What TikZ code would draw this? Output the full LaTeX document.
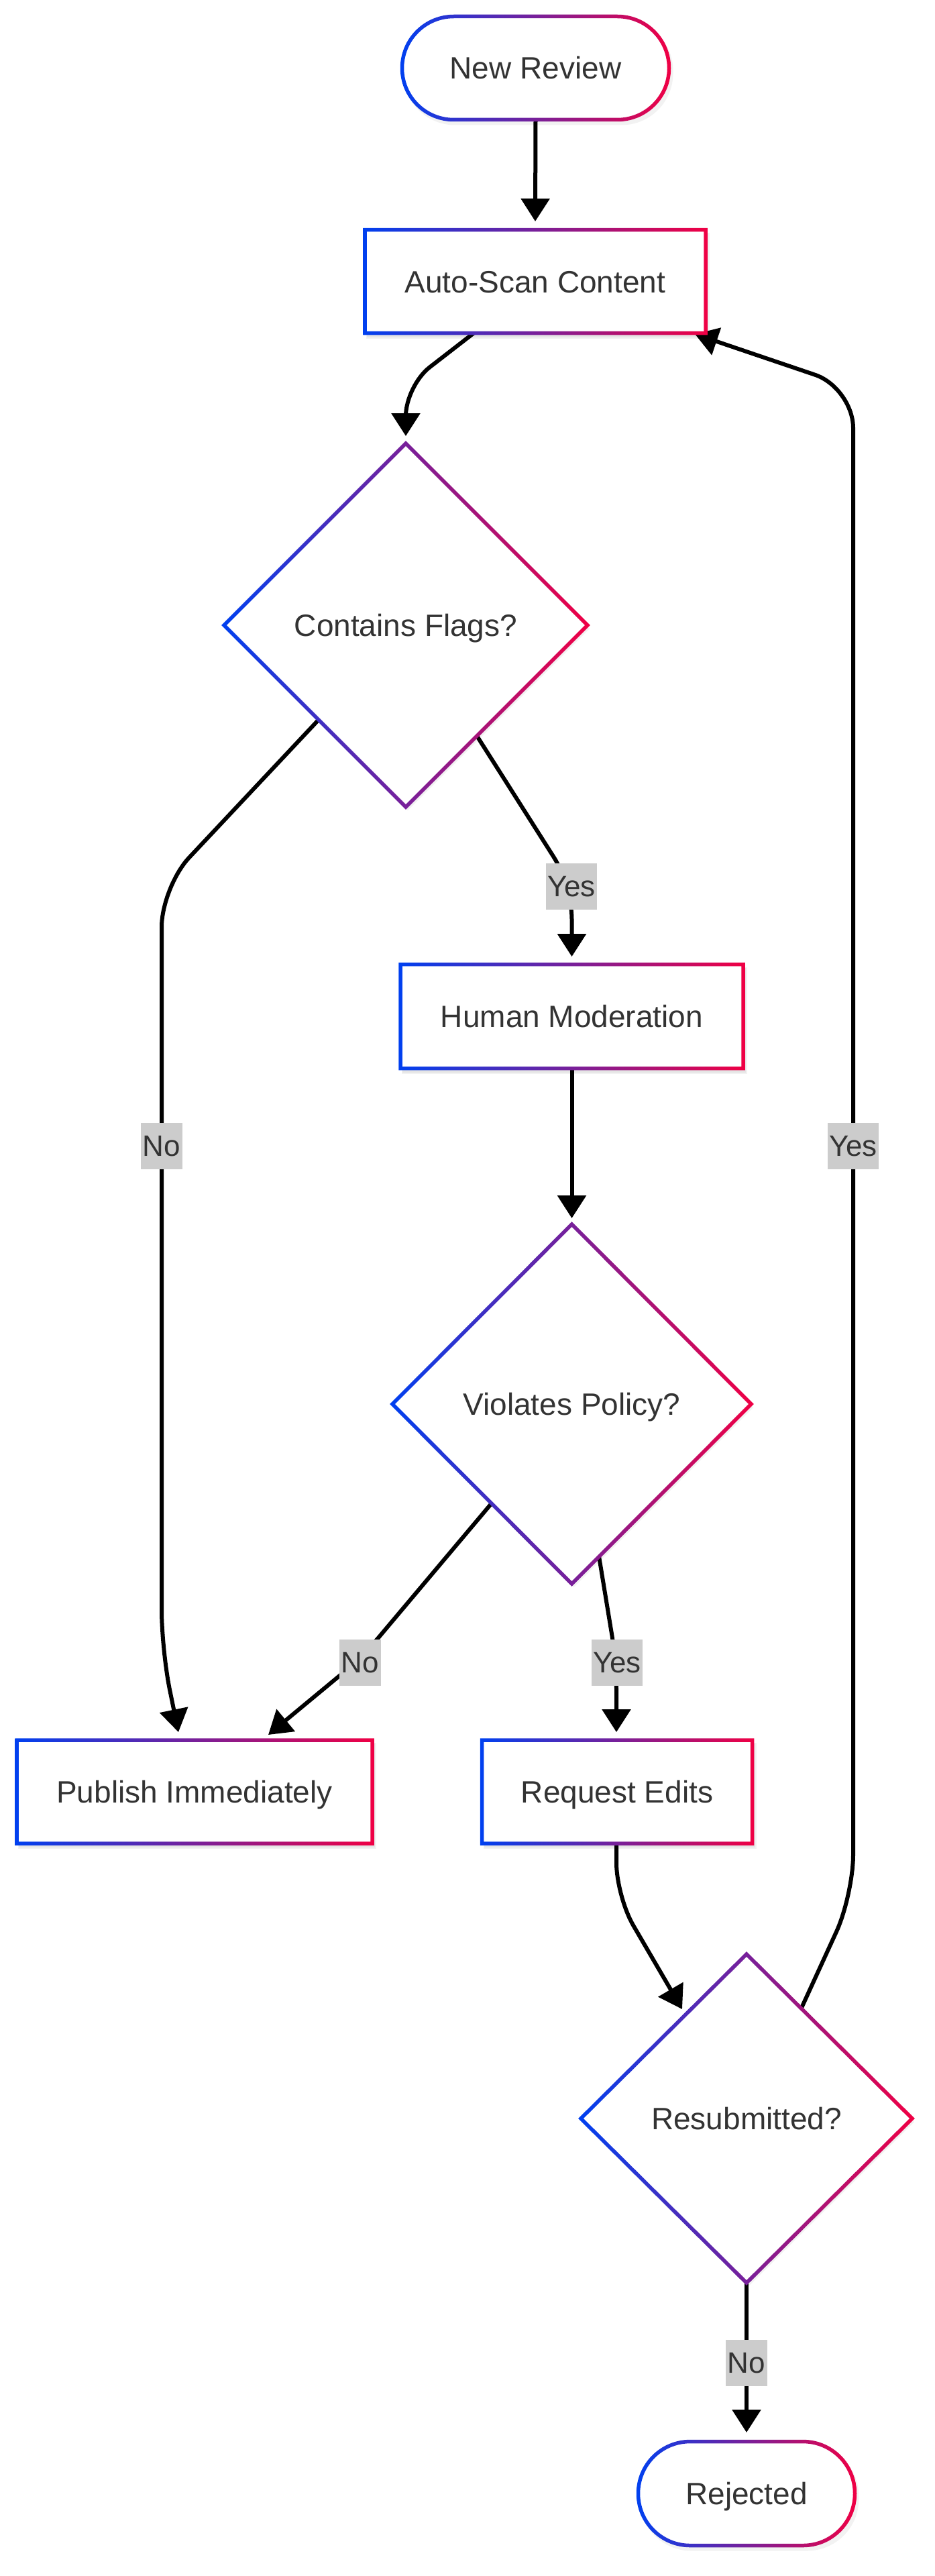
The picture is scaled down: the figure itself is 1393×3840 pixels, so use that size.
\documentclass[tikz,border=0pt]{standalone}
\usepackage{fontspec}
\setmainfont{Liberation Sans}
\usetikzlibrary{arrows.meta,calc}
\definecolor{gA}{HTML}{0040F0}
\definecolor{gB}{HTML}{F00044}
\definecolor{txt}{HTML}{333333}
\definecolor{lbl}{HTML}{CCCCCC}
\pgfdeclarelayer{edges}
\pgfdeclarelayer{shapes}
\pgfsetlayers{edges,shapes,main}
\newcommand\nbw{2.75}
\newcommand\ndd{3.9}
\tikzset{
  gborder/.style={left color=gA, right color=gB},
  shad/.style={fill=black, opacity=0.05},
  ntext/.style={text=txt, font=\fontsize{46}{55}\selectfont, inner sep=0pt, outer sep=0pt, text height=33pt, text depth=0pt},
  elabel/.style={fill=lbl, text=txt, font=\fontsize{44}{53}\selectfont, inner xsep=2.5pt, inner ysep=18.75pt, text height=31.5pt, text depth=0pt},
  arr/.style={draw=black, line width=6pt, -{Triangle[length=34pt,width=42pt]}},
}
\newcommand\RectNode[6]{%
  \begin{pgfonlayer}{shapes}
  \fill[shad] ({#2-#4/2+2},{#3-#5/2+4}) rectangle ({#2+#4/2+6},{#3+#5/2+8});
  \fill[shad] ({#2-#4/2+3},{#3-#5/2+5}) rectangle ({#2+#4/2+4},{#3+#5/2+6});
  \fill[white] ({#2-#4/2},{#3-#5/2}) rectangle ({#2+#4/2},{#3+#5/2});
  \shade[gborder,even odd rule] ({#2-#4/2-\nbw},{#3-#5/2-\nbw}) rectangle ({#2+#4/2+\nbw},{#3+#5/2+\nbw})
     ({#2-#4/2+\nbw},{#3-#5/2+\nbw}) rectangle ({#2+#4/2-\nbw},{#3+#5/2-\nbw});
  \node[ntext] (#1) at (#2,#3) {#6};
  \end{pgfonlayer}}
\newcommand\StadNode[6]{%
  \pgfmathsetmacro\rO{#5/2+\nbw-0.05}%
  \pgfmathsetmacro\rI{#5/2-\nbw-0.05}%
  \pgfmathsetmacro\rM{#5/2-0.05}%
  \begin{pgfonlayer}{shapes}
  \fill[shad, rounded corners=\rM pt] ({#2-#4/2+2},{#3-#5/2+4}) rectangle ({#2+#4/2+6},{#3+#5/2+8});
  \fill[white, rounded corners=\rM pt] ({#2-#4/2},{#3-#5/2}) rectangle ({#2+#4/2},{#3+#5/2});
  \shade[gborder,even odd rule, rounded corners=\rO pt] ({#2-#4/2-\nbw},{#3-#5/2-\nbw}) rectangle ({#2+#4/2+\nbw},{#3+#5/2+\nbw})
     [rounded corners=\rI pt] ({#2-#4/2+\nbw},{#3-#5/2+\nbw}) rectangle ({#2+#4/2-\nbw},{#3+#5/2-\nbw});
  \node[ntext] (#1) at (#2,#3) {#6};
  \end{pgfonlayer}}
\newcommand\DiaNode[6]{%
  \begin{pgfonlayer}{shapes}
  \fill[shad] ({#2-#4+3},{#3+5}) -- ({#2+3},{#3-#5+5}) -- ({#2+#4+3},{#3+5}) -- ({#2+3},{#3+#5+5}) -- cycle;
  \fill[white] ({#2-#4},#3) -- (#2,{#3-#5}) -- ({#2+#4},#3) -- (#2,{#3+#5}) -- cycle;
  \shade[gborder,even odd rule] ({#2-#4-\ndd},#3) -- (#2,{#3-#5-\ndd}) -- ({#2+#4+\ndd},#3) -- (#2,{#3+#5+\ndd}) -- cycle
     ({#2-#4+\ndd},#3) -- (#2,{#3-#5+\ndd}) -- ({#2+#4-\ndd},#3) -- (#2,{#3+#5-\ndd}) -- cycle;
  \node[ntext] (#1) at (#2,#3) {#6};
  \end{pgfonlayer}}
\begin{document}
\begin{tikzpicture}[x=1pt,y=-1pt]
\useasboundingbox (0,0) rectangle (1393,3840);
\begin{pgfonlayer}{edges}
\fill[white] (0,0) rectangle (1393,3840);
\end{pgfonlayer}
\StadNode{start}{798.5}{101.5}{398}{154}{New Review}
\RectNode{scan}{798}{419.5}{508}{154}{Auto-Scan Content}
\DiaNode{flags}{605}{932}{271}{271}{Contains Flags?}
\RectNode{human}{852.5}{1515}{511}{155}{Human Moderation}
\DiaNode{viol}{852.5}{2093}{267.5}{268}{Violates Policy?}
\RectNode{pub}{290}{2671}{530}{154}{Publish Immediately}
\RectNode{req}{920}{2671}{403}{154}{Request Edits}
\DiaNode{resub}{1113}{3158}{247}{245}{Resubmitted?}
\StadNode{rej}{1113}{3717}{323}{155}{Rejected}
\begin{pgfonlayer}{edges}
\draw[arr] ($(start)+(0,77)$) -- ($(scan)+(0,-89.5)$);
\draw[arr, rounded corners=45pt] ($(scan)+(-91,76.5)$) -- ($(flags)+(0,-357)$) -- ($(flags)+(0,-282)$);
\draw[arr, rounded corners=60pt] ($(flags)+(-131,142)$) -- ($(flags)+(-364,390)$) -- ($(pub)+(-49,-211)$) -- ($(pub)+(-24,-89)$);
\draw[arr, rounded corners=50pt] ($(flags)+(106,165)$) -- ($(human)+(0,-195)$) -- ($(human)+(0,-89)$);
\draw[arr] ($(human)+(0,78)$) -- ($(viol)+(0,-277)$);
\draw[arr, rounded corners=40pt] ($(viol)+(-120.5,149)$) -- ($(viol)+(-312.5,377)$) -- ($(pub)+(110,-85)$);
\draw[arr, rounded corners=40pt] ($(viol)+(40.5,227)$) -- ($(req)+(-1,-193)$) -- ($(req)+(-1,-89)$);
\draw[arr, rounded corners=50pt] ($(req)+(-1,77)$) -- ($(req)+(-1,156)$) -- ($(resub)+(-96,-163)$);
\draw[arr, rounded corners=60pt] ($(resub)+(82,-165)$) -- ($(resub)+(159,-333)$) -- ($(scan)+(474,158.5)$) -- ($(scan)+(238,78.5)$);
\draw[arr] ($(resub)+(0,246)$) -- ($(rej)+(0,-91)$);
\end{pgfonlayer}
\node[elabel] (l1) at (241,1708) {No};
\node[elabel] (l2) at (852,1321) {Yes};
\node[elabel] (l3) at (537,2478) {No};
\node[elabel] (l4) at (920,2478) {Yes};
\node[elabel] (l5) at (1272,1708) {Yes};
\node[elabel] (l6) at (1113,3522) {No};
\end{tikzpicture}
\end{document}
